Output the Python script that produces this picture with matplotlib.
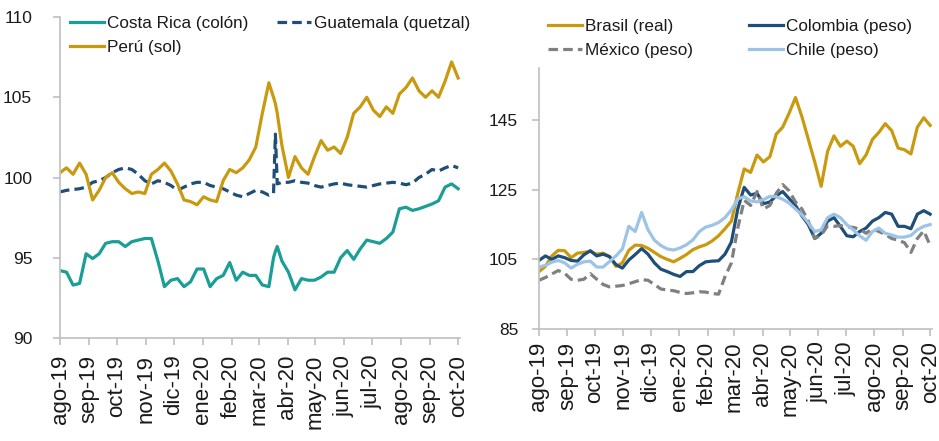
import matplotlib
matplotlib.use("Agg")
import matplotlib.pyplot as plt
import pandas as pd

# fechas semanales + dos días extra para el salto de Guatemala
semanas = pd.date_range("2019-08-01", "2020-10-01", freq="7D")
fechas_izq = semanas.append(pd.DatetimeIndex(["2020-03-17", "2020-03-21"])).sort_values()
meses = pd.date_range("2019-08-01", "2020-10-01", freq="MS")
etiquetas_meses = ["ago-19", "sep-19", "oct-19", "nov-19", "dic-19", "ene-20", "feb-20",
                   "mar-20", "abr-20", "may-20", "jun-20", "jul-20", "ago-20", "sep-20", "oct-20"]

costa_rica = [94.2, 94.1, 93.3, 93.4, 95.25, 94.95, 95.25, 95.9, 96.0, 96.0,
              95.7, 96.0, 96.1, 96.2, 96.2, 94.8, 93.2, 93.6, 93.7, 93.2,
              93.5, 94.3, 94.3, 93.2, 93.7, 93.9, 94.7, 93.6, 94.1, 93.9,
              93.9, 93.3, 93.2, 95.0, 95.4, 95.7,
              94.8, 94.1, 93.0, 93.7, 93.6, 93.6, 93.8, 94.1, 94.1, 95.0,
              95.45, 94.9, 95.55, 96.1, 96.0, 95.9, 96.2, 96.6, 98.05, 98.15,
              97.95, 98.05, 98.2, 98.35, 98.55, 99.4, 99.6, 99.3]
guatemala = [99.1, 99.2, 99.25, 99.3, 99.4, 99.7, 99.8, 100.0, 100.3, 100.5,
             100.6, 100.5, 100.2, 99.8, 99.6, 99.8, 99.7, 99.5, 99.2, 99.4,
             99.6, 99.7, 99.7, 99.5, 99.4, 99.3, 99.1, 98.9, 98.8, 99.0,
             99.2, 99.1, 98.9, 99.0, 102.7, 99.6,
             99.7, 99.7, 99.8, 99.7, 99.65, 99.5, 99.4, 99.5, 99.6, 99.65,
             99.55, 99.5, 99.45, 99.4, 99.5, 99.6, 99.65, 99.7, 99.65, 99.55,
             99.65, 100.0, 100.2, 100.5, 100.4, 100.6, 100.75, 100.6]
peru = [100.3, 100.6, 100.2, 100.9, 100.2, 98.6, 99.2, 100.0, 100.3, 99.7,
        99.3, 99.0, 99.1, 99.0, 100.2, 100.5, 100.9, 100.4, 99.6, 98.6,
        98.5, 98.3, 98.8, 98.6, 98.5, 99.8, 100.5, 100.3, 100.6, 101.1,
        101.9, 104.0, 105.9, 105.0, 104.6, 104.0,
        102.0, 100.0, 101.3, 100.6, 100.2, 101.3, 102.3, 101.7, 101.9, 101.5,
        102.5, 104.0, 104.4, 105.0, 104.2, 103.8, 104.4, 104.0, 105.2, 105.6,
        106.2, 105.4, 105.0, 105.4, 105.0, 106.0, 107.2, 106.2]

brasil = [101.5, 103, 106, 107.6, 107.5, 105.5, 106.8, 107, 107.3, 106.5,
          106.8, 105.8, 103, 104, 107.6, 109.1, 109, 108.2, 107, 105.8,
          105.0, 104.3, 105.3, 106.4, 107.8, 108.6, 109.2, 110.3, 111.8, 113.8,
          116, 124, 131, 130, 135, 133, 134.5, 141, 143, 147,
          151.5, 146, 139.5, 133, 126, 136, 140.5, 137.5, 139, 137.5,
          132.5, 135, 139.5, 141.5, 144, 142, 137, 136.5, 135.3, 143,
          145.7, 143.5]
colombia = [104.7, 106, 105, 106, 105.5, 104.7, 104.5, 106.3, 107.5, 106,
            106.5, 105.8, 103.5, 102.5, 104.8, 106.4, 108.1, 106.5, 104, 102.2,
            101.5, 100.7, 100.1, 101.5, 101.5, 103.2, 104.3, 104.5, 104.6, 106.5,
            110, 119.5, 125.7, 123.5, 124, 121, 121.5, 123.3, 124.5, 122.5,
            120.5, 117.5, 115, 111, 112.5, 116, 117, 114.5, 111.8, 111.5,
            113, 114, 116, 117, 118.5, 118, 114.5, 114.5, 113.8, 118,
            119, 118]
mexico = [99, 99.8, 100.8, 101.8, 101, 99.3, 99, 99.3, 100.9, 99.3,
          97.8, 97.1, 97.3, 97.5, 98, 98.6, 99.2, 99, 97.8, 96.5,
          96.2, 96, 95.5, 95.2, 95.4, 95.7, 95.6, 95.2, 95, 100,
          104, 114, 122, 120.5, 124.5, 119.5, 120.5, 124, 126.5, 124.7,
          121.5, 119.5, 116, 111, 112, 114.6, 114.5, 114.7, 114.4, 114.2,
          113.7, 112.5, 113.8, 113, 112.2, 111, 110.5, 109.8, 107, 111,
          113.2, 109]
chile = [102.8, 103.3, 104.2, 104.7, 104, 102.5, 103.6, 104.3, 104.5, 102.8,
         102.8, 104.4, 106, 108, 114.5, 113, 118.5, 113.5, 110.5, 109,
         108, 107.7, 108.3, 109.2, 110.6, 113, 114.3, 114.8, 115.6, 117,
         119.2, 122.4, 123, 121.8, 121.5, 122.2, 123.1, 123, 122.3, 121.2,
         119.5, 117.8, 115.5, 113, 113.5, 117, 118, 117, 115, 113.5,
         111.8, 110.5, 113, 114, 112.5, 112, 111.4, 111.4, 111.9, 113.5,
         114.5, 115]

TEAL = "#1a9e96"
NAVY = "#1f4e79"
ORO = "#c99a0f"
GRIS = "#808080"
CELESTE = "#9dc3e6"
EJE = "#bfbfbf"

plt.rcParams["font.family"] = ["Liberation Sans", "DejaVu Sans"]
plt.rcParams["text.color"] = "#1a1a1a"

fig = plt.figure(figsize=(9.39, 4.41), dpi=100)
ax1 = fig.add_axes([60 / 939, 1 - 338 / 441, 400 / 939, 321 / 441])
ax2 = fig.add_axes([539 / 939, 1 - 329 / 441, 393 / 939, 261 / 441])

lw = 2.3
l_cr, = ax1.plot(fechas_izq, costa_rica, color=TEAL, lw=lw, label="Costa Rica (colón)")
l_gt, = ax1.plot(fechas_izq, guatemala, color=NAVY, lw=lw, dashes=(3, 1.6), label="Guatemala (quetzal)")
l_pe, = ax1.plot(fechas_izq, peru, color=ORO, lw=lw, label="Perú (sol)")

l_br, = ax2.plot(semanas, brasil, color=ORO, lw=lw, label="Brasil (real)")
l_co, = ax2.plot(semanas, colombia, color=NAVY, lw=lw, label="Colombia (peso)")
l_mx, = ax2.plot(semanas, mexico, color=GRIS, lw=lw, dashes=(3, 1.6), label="México (peso)")
l_cl, = ax2.plot(semanas, chile, color=CELESTE, lw=lw, label="Chile (peso)")

fin = pd.Timestamp("2020-10-03")
for ax in (ax1, ax2):
    ax.set_xlim(meses[0], fin)
    ax.set_xticks(meses)
    ax.set_xticklabels(etiquetas_meses, rotation=90, fontsize=16)
    for lado in ("top", "right"):
        ax.spines[lado].set_visible(False)
    for lado in ("left", "bottom"):
        ax.spines[lado].set_color(EJE)
        ax.spines[lado].set_linewidth(1.2)
    ax.tick_params(axis="both", color=EJE, length=5, width=1.2, labelcolor="#1a1a1a")

ax1.set_ylim(90, 110)
ax1.set_yticks([90, 95, 100, 105, 110])
ax1.tick_params(axis="y", labelsize=12.5, pad=15)
ax1.tick_params(axis="x", pad=7)

ax2.set_ylim(85, 160)
ax2.set_yticks([85, 105, 125, 145])
ax2.tick_params(axis="y", labelsize=12.5, pad=10)
ax2.tick_params(axis="x", pad=4)

ax1.legend(handles=[l_cr, l_pe, l_gt], ncol=2, loc="upper left",
           bbox_to_anchor=(70 / 939, 1 - 16 / 441), bbox_transform=fig.transFigure,
           frameon=False, fontsize=12.3, handlelength=2.0, handletextpad=0.15,
           columnspacing=1.7, labelspacing=0.55, borderpad=0, borderaxespad=0)
ax2.legend(handles=[l_br, l_mx, l_co, l_cl], ncol=2, loc="upper left",
           bbox_to_anchor=(548 / 939, 1 - 19 / 441), bbox_transform=fig.transFigure,
           frameon=False, fontsize=12.3, handlelength=2.0, handletextpad=0.15,
           columnspacing=3.3, labelspacing=0.5, borderpad=0, borderaxespad=0)

fig.savefig("out.png", dpi=100)
plt.close("all")
